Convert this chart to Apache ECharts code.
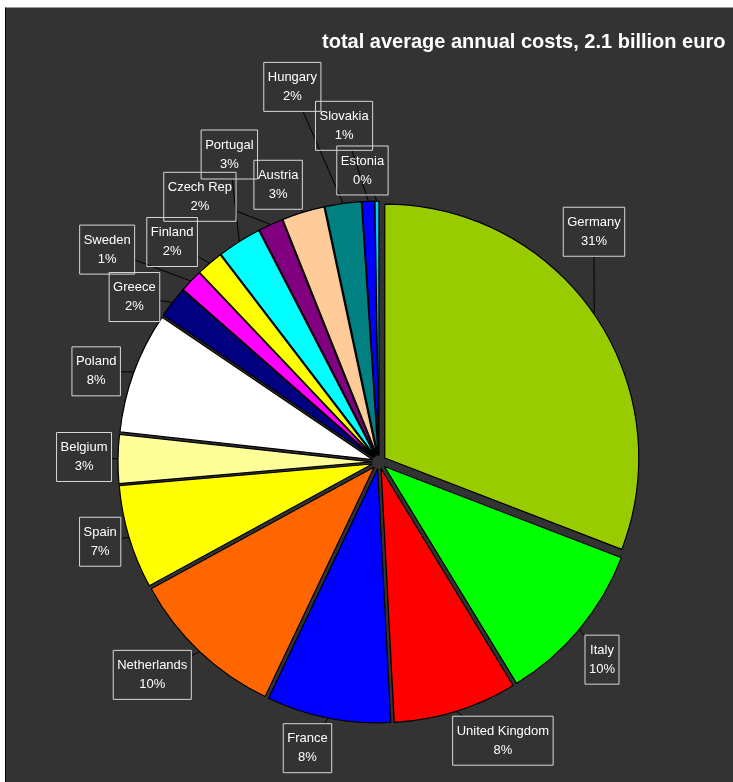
<!DOCTYPE html>
<html>
<head>
<meta charset="utf-8">
<script src="https://cdn.jsdelivr.net/npm/echarts@6/dist/echarts.min.js"></script>
<style>
  html, body { margin: 0; padding: 0; background: #ffffff; width: 733px; height: 782px; overflow: hidden; }
  #wrap { position: absolute; left: 5px; top: 7px; width: 728px; height: 775px;
          background: #333333; border-left: 1px solid #000; border-top: 1px solid #9a9a9a; }
  #chart { position: absolute; left: 0; top: 0; width: 728px; height: 775px; }
</style>
</head>
<body>
<div id="wrap"><div id="chart"></div></div>
<script>
// ---- data (share of total average annual costs, %) ----
const countries = ['Germany', 'Italy', 'United Kingdom', 'France', 'Netherlands', 'Spain', 'Belgium',
  'Poland', 'Greece', 'Sweden', 'Finland', 'Portugal', 'Czech Rep', 'Austria', 'Hungary', 'Slovakia', 'Estonia'];
const shares = [30.9, 10.45, 7.9, 7.9, 10.0, 6.6, 3.1, 7.75, 2.0, 1.45, 1.7, 2.8, 1.55, 2.7, 2.3, 0.8, 0.25];
const titleText = 'total average annual costs, 2.1 billion euro';

// ---- styling ----
const colors = ['#99CC00', '#00FF00', '#FF0000', '#0000FF', '#FF6600', '#FFFF00', '#FFFF99',
  '#FFFFFF', '#000080', '#FF00FF', '#FFFF00', '#00FFFF', '#800080', '#FFCC99', '#008080', '#0000FF', '#00CCFF'];
// label placement: angular shift (deg) from slice middle and distance from pie centre (px)
const labelAngleShift = [-12.5, 1.7, -6.8, 2.8, 3.4, 0.8, 0.3, -2.4, -3.7, -5.9, -2.8, 6.4, -9.5, -3.1, -5.1, -3.6, -2.8];
const labelDist = [315, 298, 305, 295, 311, 290, 295, 297, 295, 345, 302, 342, 320, 295, 385, 338, 292];

const CX = 373, CY = 454, R = 254, OFF = 7;   // pie centre, radius, explosion offset
const total = shares.reduce((a, b) => a + b, 0);
const mids = [];
let acc = 0;
shares.forEach(v => { mids.push((acc + v / 2) / total * 360); acc += v; });

function makeLabelLayout(k) {
  return function (p) {
    const a = (mids[k] + labelAngleShift[k]) * Math.PI / 180;
    const d = labelDist[k];
    const lx = CX + d * Math.sin(a), ly = CY - d * Math.cos(a);
    const m = mids[k] * Math.PI / 180;
    const ex = CX + (R + OFF) * Math.sin(m), ey = CY - (R + OFF) * Math.cos(m);
    const w = p.labelRect.width, h = p.labelRect.height;
    const dx = ex - lx, dy = ey - ly;
    const t = Math.min(dx === 0 ? Infinity : (w / 2) / Math.abs(dx), dy === 0 ? Infinity : (h / 2) / Math.abs(dy));
    let pts;
    if (t >= 1) {
      pts = [[lx, ly], [lx, ly], [lx, ly]];
    } else {
      const sx = lx + t * dx, sy = ly + t * dy;
      pts = [[ex, ey], [(ex + sx) / 2, (ey + sy) / 2], [sx, sy]];
    }
    return { x: lx, y: ly, align: 'center', verticalAlign: 'middle', labelLinePoints: pts };
  };
}

// one pie series per exploded slice: identical angles, centre pushed out along the slice middle
const series = countries.map((name, k) => {
  const m = mids[k] * Math.PI / 180;
  return {
    type: 'pie',
    silent: true,
    center: [CX + OFF * Math.sin(m), CY - OFF * Math.cos(m)],
    radius: [0, R],
    startAngle: 90,
    clockwise: true,
    avoidLabelOverlap: false,
    emphasis: { disabled: true },
    label: {
      show: true,
      position: 'outside',
      color: '#ffffff',
      fontFamily: 'Liberation Sans',
      fontSize: 13,
      lineHeight: 19,
      padding: [6, 4, 5, 4],
      borderColor: '#d8d8d8',
      borderWidth: 1,
      align: 'center',
      formatter: p => p.name + '\n' + Math.round(p.percent) + '%'
    },
    labelLine: { show: true, lineStyle: { color: '#000000', width: 1 } },
    labelLayout: makeLabelLayout(k),
    data: countries.map((c, i) => i === k ? {
      name: c, value: shares[i],
      itemStyle: { color: colors[i], borderColor: '#000000', borderWidth: 1.2 }
    } : {
      name: c, value: shares[i],
      itemStyle: { color: 'rgba(0,0,0,0)', borderWidth: 0 },
      label: { show: false }, labelLine: { show: false }
    })
  };
});

const chart = echarts.init(document.getElementById('chart'), null, { renderer: 'canvas' });
chart.setOption({
  animation: false,
  backgroundColor: 'transparent',
  title: {
    text: titleText,
    left: 316, top: 24, padding: 0,
    textStyle: { color: '#ffffff', fontSize: 20, fontWeight: 'bold', fontFamily: 'Liberation Sans' }
  },
  series: series
});
</script>
</body>
</html>
